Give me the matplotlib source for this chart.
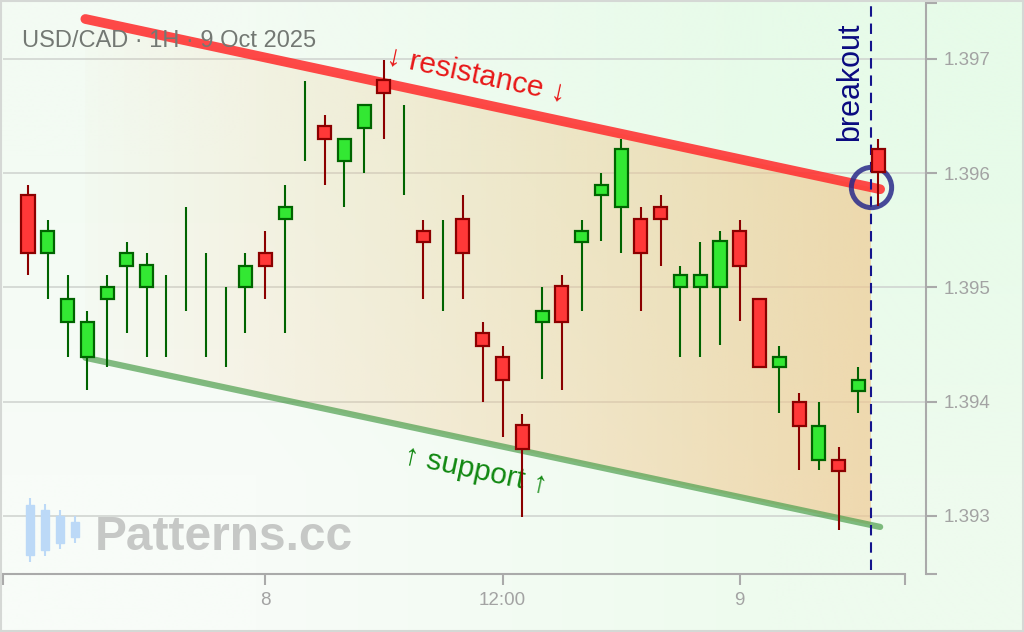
import numpy as np
import matplotlib.pyplot as plt
from matplotlib.patches import Rectangle

plt.rcParams['font.family'] = ['Liberation Sans', 'DejaVu Sans']

# hourly candles, 7 Oct 12:00 -> 9 Oct 07:00
opens = [1.39581, 1.39530, 1.39470, 1.39439, 1.39490, 1.39519, 1.39500, 1.39475,
         1.39525, 1.39485, 1.39465, 1.39500, 1.39530, 1.39560, 1.39646, 1.39641,
         1.39611, 1.39640, 1.39682, 1.39620, 1.39549, 1.39519, 1.39560, 1.39460,
         1.39439, 1.39380, 1.39470, 1.39501, 1.39540, 1.39581, 1.39570, 1.39560,
         1.39570, 1.39500, 1.39500, 1.39500, 1.39549, 1.39490, 1.39430, 1.39400,
         1.39349, 1.39349, 1.39409, 1.39621]
closes = [1.39530, 1.39549, 1.39490, 1.39470, 1.39500, 1.39530, 1.39520, 1.39475,
          1.39525, 1.39485, 1.39465, 1.39519, 1.39519, 1.39570, 1.39646, 1.39630,
          1.39630, 1.39660, 1.39670, 1.39620, 1.39540, 1.39519, 1.39530, 1.39449,
          1.39419, 1.39359, 1.39479, 1.39470, 1.39549, 1.39590, 1.39621, 1.39530,
          1.39560, 1.39511, 1.39511, 1.39541, 1.39519, 1.39430, 1.39439, 1.39379,
          1.39379, 1.39339, 1.39419, 1.39601]
highs = [1.39590, 1.39559, 1.39511, 1.39479, 1.39511, 1.39540, 1.39530, 1.39511,
         1.39570, 1.39530, 1.39500, 1.39530, 1.39549, 1.39590, 1.39681, 1.39651,
         1.39630, 1.39660, 1.39699, 1.39660, 1.39559, 1.39559, 1.39581, 1.39470,
         1.39449, 1.39389, 1.39500, 1.39511, 1.39559, 1.39600, 1.39630, 1.39570,
         1.39581, 1.39519, 1.39540, 1.39549, 1.39559, 1.39490, 1.39449, 1.39408,
         1.39400, 1.39360, 1.39430, 1.39630]
lows = [1.39511, 1.39490, 1.39439, 1.39410, 1.39430, 1.39460, 1.39439, 1.39439,
        1.39479, 1.39439, 1.39430, 1.39460, 1.39490, 1.39460, 1.39611, 1.39590,
        1.39570, 1.39600, 1.39630, 1.39581, 1.39490, 1.39479, 1.39490, 1.39400,
        1.39369, 1.39299, 1.39420, 1.39410, 1.39479, 1.39541, 1.39530, 1.39479,
        1.39519, 1.39439, 1.39439, 1.39450, 1.39471, 1.39430, 1.39390, 1.39340,
        1.39340, 1.39288, 1.39390, 1.39571]

tick_pos = [12, 24, 36]
tick_labels = ['8', '12:00', '9']
price_ticks = [1.393, 1.394, 1.395, 1.396, 1.397]

channel_x = [2.9, 43.1]
resistance = [1.39735, 1.39586]
support = [1.394385, 1.392904]
breakout_x = 42.65

o = np.array(opens); c = np.array(closes)
h = np.array(highs); l = np.array(lows)
x = np.arange(len(o))

fig = plt.figure(figsize=(10.24, 6.32), dpi=100)

# soft mint background
bg = fig.add_axes([0, 0, 1, 1], zorder=-5)
bg.axis('off')
corners = np.array([[[248, 252, 248], [238, 251, 238]],
                    [[243, 251, 243], [231, 251, 233]]]) / 255
bg.imshow(corners, extent=[0, 1, 0, 1], origin='lower', aspect='auto',
          interpolation='bilinear')
bg.set_xlim(0, 1); bg.set_ylim(0, 1)

ax = fig.add_axes([3 / 1024, 58 / 632, 923 / 1024, 571 / 632])
ax.set_facecolor('none')
xlim = (-1.265, 45.42)
ylim = (1.392492, 1.39749)

# channel gradient fill
fx = np.array([channel_x[0], breakout_x])
hi = np.interp(fx, channel_x, resistance)
lo = np.interp(fx, channel_x, support)
poly = ax.fill(np.r_[fx, fx[::-1]], np.r_[lo, hi[::-1]],
               facecolor='none', edgecolor='none')[0]
grad = np.zeros((2, 256, 4))
grad[..., 0] = 240 / 255
grad[..., 1] = 198 / 255
grad[..., 2] = 140 / 255
grad[..., 3] = np.linspace(0.03, 0.64, 256)
im = ax.imshow(grad, extent=[fx[0], fx[-1], lo.min(), hi.max()], origin='lower',
               aspect='auto', interpolation='bilinear', zorder=2)
im.set_clip_path(poly)

ax.plot(channel_x, resistance, color='#ff3030', lw=7, alpha=0.88,
        solid_capstyle='round', zorder=4)
ax.plot(channel_x, support, color='#4e9f4e', lw=4.5, alpha=0.7,
        solid_capstyle='round', zorder=4)

# breakout marker
ax.axvline(breakout_x, 0.007, 1.006, clip_on=False, color='#14148c', lw=1.5,
           dashes=(5, 3.3), zorder=5)
ax.plot(breakout_x, np.interp(breakout_x, channel_x, resistance), 'o', ms=29,
        mfc='none', mec='#2a2a8a', mew=3.6, alpha=0.85, zorder=5)

ax.text(41.58, 1.396799, 'breakout', rotation=90, ha='center', va='center',
        fontsize=22, color='#0a0a80', zorder=6)
ax.text(22.7, 1.39686, '↓ resistance ↓', rotation=-12, rotation_mode='anchor',
        ha='center', va='center', fontsize=21.5, color='#e81818', zorder=6)
ax.text(22.62, 1.39340, '↑ support ↑', rotation=-12, rotation_mode='anchor',
        ha='center', va='center', fontsize=21.5, color='#118811', zorder=6)

# candles
up = c >= o
wick_col = np.where(up, '#006400', '#8b0000')
ax.vlines(x, l, h, colors=wick_col, lw=1.5, zorder=7)
body = c != o
ax.bar(x[body], np.abs(c - o)[body], bottom=np.minimum(o, c)[body], width=0.66,
       color=np.where(up, '#33e833', '#ff3838')[body],
       edgecolor=wick_col[body], linewidth=1.6, zorder=8)

ax.set_xlim(*xlim)
ax.set_ylim(*ylim)

ax.yaxis.tick_right()
ax.set_yticks(price_ticks, [f'{p:.3f}' for p in price_ticks])
ax.set_yticks(list(ylim), minor=True)
ax.set_xticks(tick_pos, tick_labels)
ax.set_xticks([xlim[0], 44.36], minor=True)
ax.tick_params(axis='both', which='both', length=8, width=1.5, color='#aaaaaa',
               labelcolor='#a3a3a3', labelsize=13.5)
ax.tick_params(axis='y', pad=4.5)
ax.tick_params(axis='x', pad=5)
for s in ['left', 'top']:
    ax.spines[s].set_visible(False)
for s in ['bottom', 'right']:
    ax.spines[s].set_color('#aaaaaa')
    ax.spines[s].set_linewidth(1.5)
ax.spines['bottom'].set_bounds(xlim[0], 44.36)
ax.grid(axis='y', which='major', color='#d0d4d0', lw=1.3, alpha=0.9)
ax.set_axisbelow(True)

# overlay: title, watermark, border
ov = fig.add_axes([0, 0, 1, 1], zorder=10)
ov.set_xlim(0, 1024); ov.set_ylim(632, 0)
ov.axis('off')
ov.text(22, 41, 'USD/CAD · 1H · 9 Oct 2025', va='center', ha='left',
        fontsize=17, color='#737873', zorder=20)
ov.text(95, 550, 'Patterns.cc', va='baseline', ha='left', fontsize=34.5,
        weight='bold', color='#c6c8c6')
logo = [(30, 498, 505, 555, 562), (45, 504, 510, 550, 556),
        (60, 510, 516, 543, 549), (75, 516, 522, 537, 543)]
for lx, wt, bt, bb, wb in logo:
    ov.vlines(lx, wt, wb, colors='#bcd9f7', lw=1.5)
    ov.add_patch(Rectangle((lx - 4, bt), 8, bb - bt, color='#bcd9f7'))
ov.add_patch(Rectangle((1, 1), 1022, 630, fill=False, ec='#d5d8d5', lw=1.5))

fig.savefig('out.png', dpi=100)
